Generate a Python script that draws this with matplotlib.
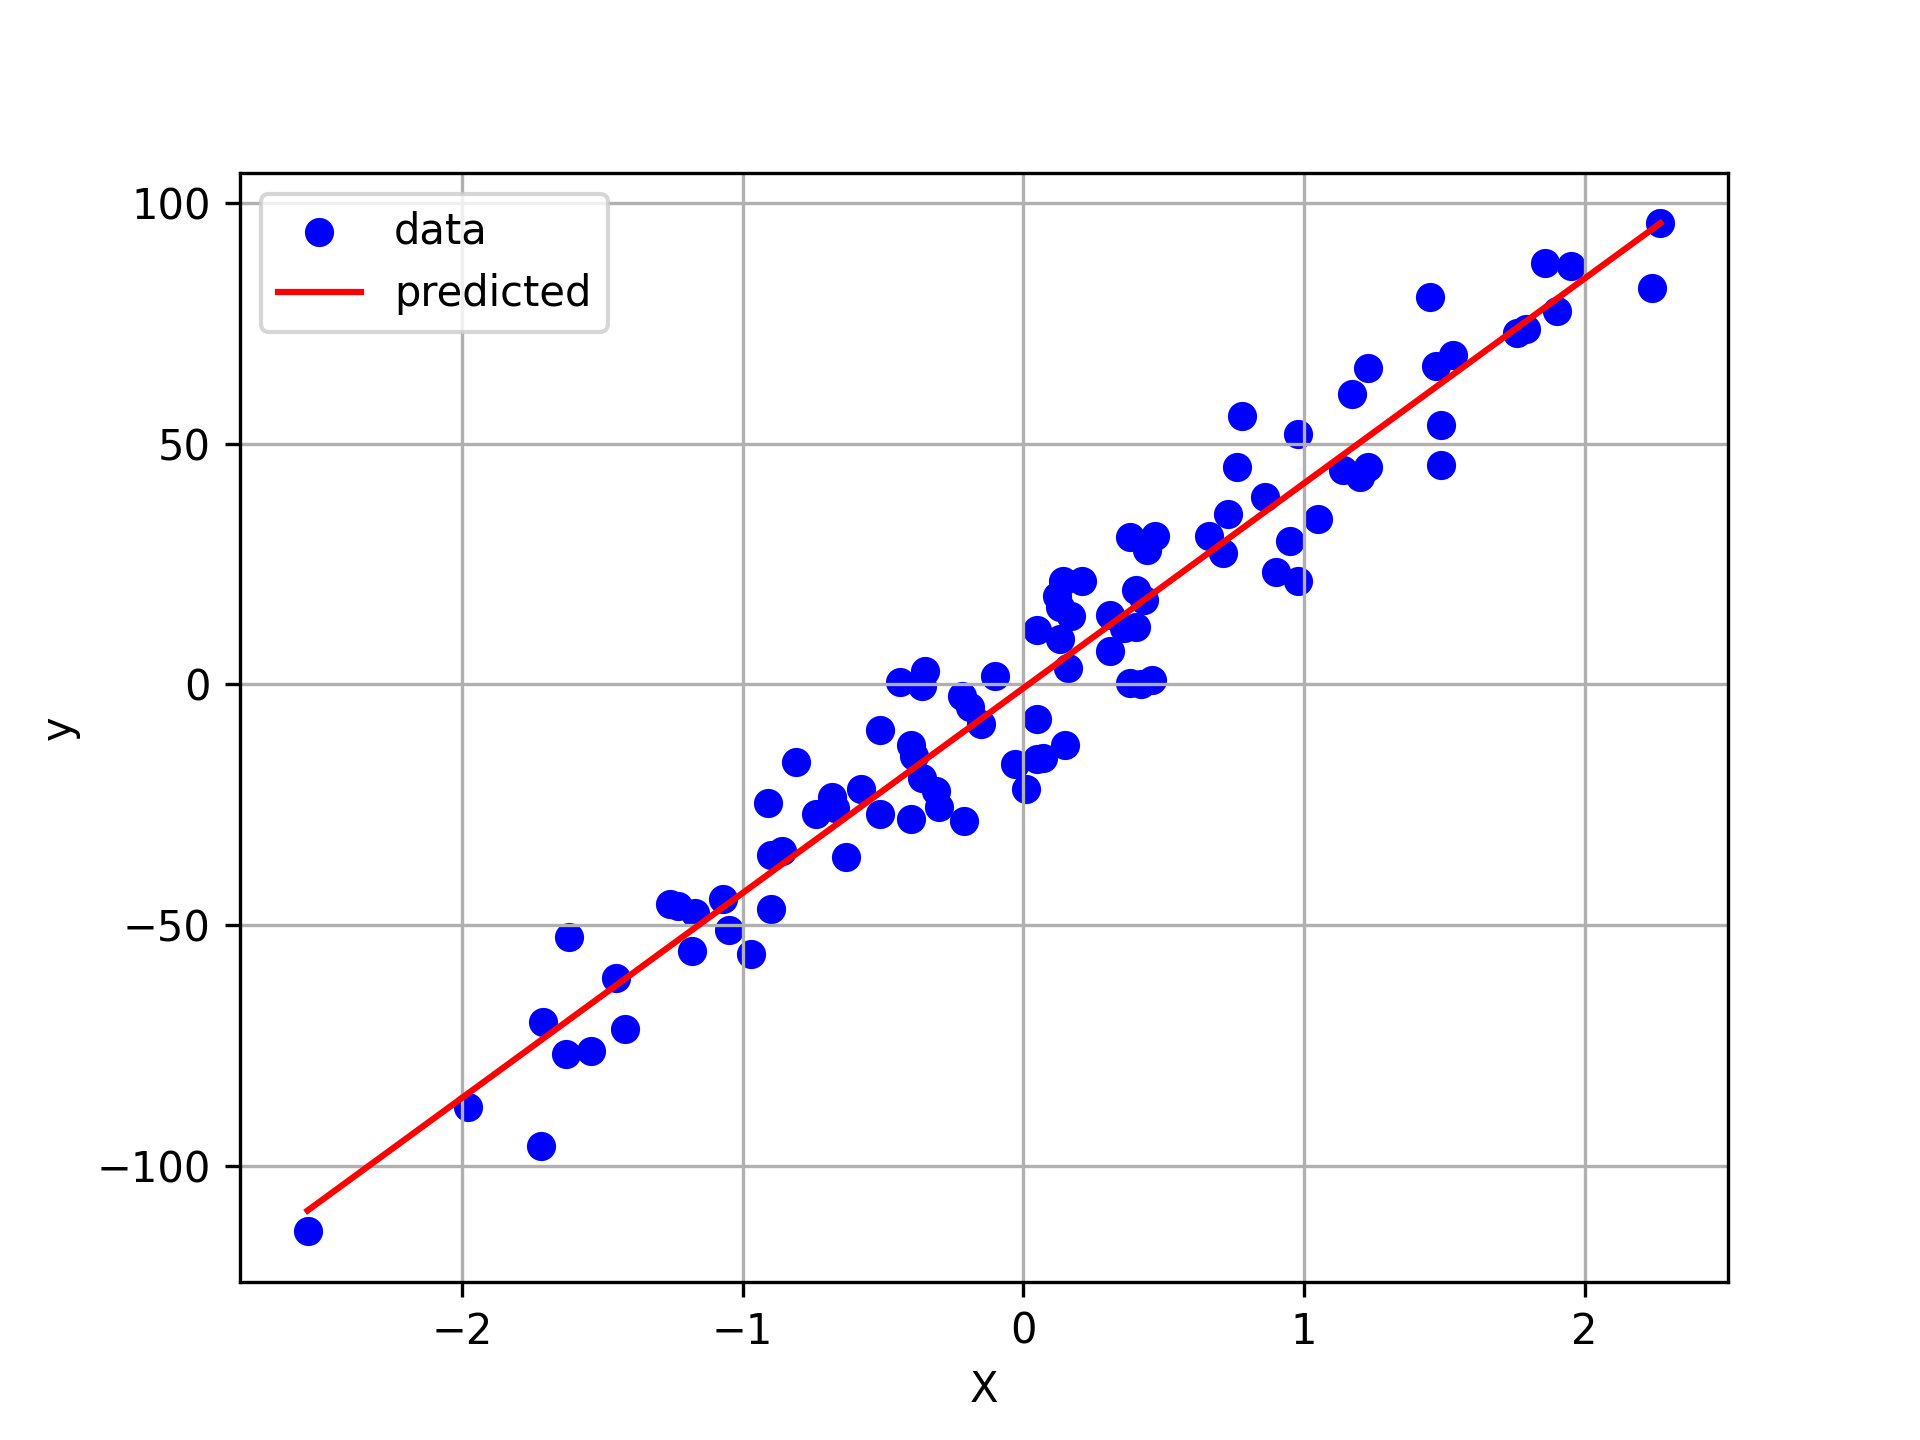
import matplotlib
matplotlib.use("Agg")
import matplotlib.pyplot as plt
import numpy as np

# scatter values
x_data = [-2.55, -1.98, -1.72, -1.71, -1.62, -1.63, -1.54, -1.45, -1.42, -1.26,
          -1.23, -1.17, -1.18, -1.07, -1.05, -0.97, -0.91, -0.90, -0.86, -0.90,
          -0.81, -0.74, -0.68, -0.67, -0.63, -0.58, -0.51, -0.51, -0.44, -0.40,
          -0.39, -0.40, -0.36, -0.35, -0.36, -0.31, -0.30, -0.22, -0.19, -0.15,
          -0.21, -0.10, -0.03, 0.01, 0.05, 0.05, 0.05, 0.07, 0.12, 0.13,
          0.14, 0.13, 0.16, 0.15, 0.17, 0.21, 0.31, 0.31, 0.36, 0.38,
          0.42, 0.46, 0.40, 0.40, 0.43, 0.38, 0.44, 0.47, 0.66, 0.71,
          0.73, 0.76, 0.78, 0.86, 0.90, 0.95, 0.98, 0.98, 1.05, 1.14,
          1.20, 1.23, 1.17, 1.23, 1.45, 1.47, 1.49, 1.49, 1.53, 1.76,
          1.79, 1.86, 1.90, 1.95, 2.24, 2.27]
y_data = [-113.6, -87.9, -95.8, -70.1, -52.5, -76.7, -76.2, -60.9, -71.6, -45.6,
          -46.1, -47.6, -55.3, -44.6, -51.0, -56.1, -24.7, -35.4, -34.6, -46.6,
          -16.1, -27.0, -23.4, -25.7, -35.9, -21.7, -9.4, -27.0, 0.5, -12.7,
          -14.8, -28.0, -0.3, 2.8, -19.4, -22.2, -25.5, -2.5, -4.8, -8.2,
          -28.3, 1.8, -16.6, -21.7, -7.1, 11.2, -15.5, -15.3, 18.3, 16.1,
          21.4, 9.4, 3.3, -12.5, 14.3, 21.4, 6.9, 14.5, 11.7, 0.3,
          0.0, 1.0, 12.0, 19.6, 17.6, 30.6, 28.0, 30.8, 30.8, 27.3,
          35.4, 45.1, 55.8, 39.0, 23.4, 29.8, 52.0, 21.4, 34.4, 44.6,
          43.1, 45.1, 60.4, 65.7, 80.5, 66.2, 45.6, 53.8, 68.5, 72.9,
          73.9, 87.6, 77.5, 86.9, 82.3, 95.8]

# fitted line end points
pred_x = [-2.55, 2.27]
pred_y = [-109.3, 95.8]

fig = plt.figure(figsize=(6.4, 4.8), dpi=300)
plt.scatter(x_data, y_data, color="blue", label="data")
plt.plot(pred_x, pred_y, color="red", label="predicted")
plt.xlabel("X")
plt.ylabel("y")
plt.grid(True)
plt.legend(loc="upper left")
plt.savefig("out.png", dpi=300)
